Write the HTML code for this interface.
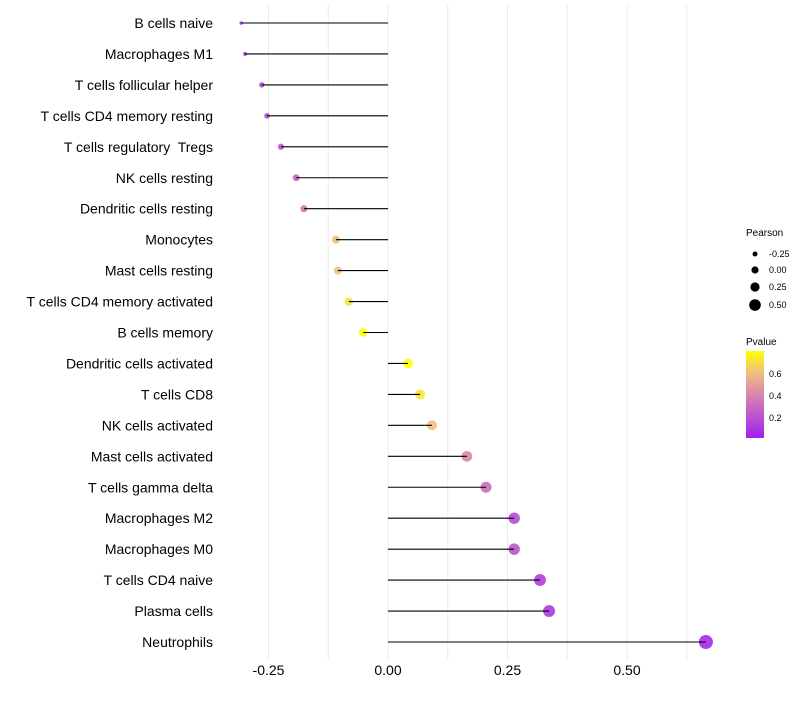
<!DOCTYPE html>
<html><head><meta charset="utf-8"><style>
body{margin:0;background:#fff;font-family:"Liberation Sans",Arial,sans-serif}
text{white-space:pre}
</style></head><body>
<svg id="chart" width="800" height="700" xmlns="http://www.w3.org/2000/svg" style="white-space:pre">
<defs><linearGradient id="pg" x1="0" y1="1" x2="0" y2="0">
<stop offset="0" stop-color="#a020f0"/><stop offset="0.5" stop-color="#d985ab"/><stop offset="0.75" stop-color="#efbf7f"/><stop offset="1" stop-color="#ffff00"/></linearGradient></defs>
<g id="grid"></g><g id="marks"></g><g id="labels"></g>
<g font-size="10" fill="#000">
<text x="746" y="236">Pearson</text>
<circle cx="755" cy="254" r="2.5"/><text x="769" y="257" font-size="9">-0.25</text>
<circle cx="755" cy="270" r="3.6"/><text x="769" y="273" font-size="9">0.00</text>
<circle cx="755" cy="287" r="4.6"/><text x="769" y="290" font-size="9">0.25</text>
<circle cx="755" cy="305" r="5.8"/><text x="769" y="308" font-size="9">0.50</text>
<text x="746" y="345">Pvalue</text>
<rect x="746" y="351" width="18" height="87" fill="url(#pg)"/>
<text x="769" y="377" font-size="9">0.6</text>
<text x="769" y="399" font-size="9">0.4</text>
<text x="769" y="421" font-size="9">0.2</text>
</g>
</svg>
<script>
const categories=["B cells naive","Macrophages M1","T cells follicular helper","T cells CD4 memory resting","T cells regulatory  Tregs","NK cells resting","Dendritic cells resting","Monocytes","Mast cells resting","T cells CD4 memory activated","B cells memory","Dendritic cells activated","T cells CD8","NK cells activated","Mast cells activated","T cells gamma delta","Macrophages M2","Macrophages M0","T cells CD4 naive","Plasma cells","Neutrophils"];
const pearson=[-0.307,-0.299,-0.264,-0.253,-0.224,-0.192,-0.176,-0.109,-0.105,-0.082,-0.052,0.042,0.067,0.092,0.165,0.205,0.264,0.264,0.318,0.337,0.665];
const pvalues=[0.1,0.1,0.15,0.17,0.2,0.25,0.35,0.6,0.6,0.7,0.8,0.8,0.72,0.6,0.4,0.3,0.17,0.2,0.12,0.1,0.03];
const ticks=[-0.25,0,0.25,0.5];
const tickLabels=["-0.25","0.00","0.25","0.50"];
const NS="http://www.w3.org/2000/svg";
const xs=v=>388+v*478;
const ys=i=>23+i*30.95;
function mk(t,a,p){const e=document.createElementNS(NS,t);for(const k in a)e.setAttribute(k,a[k]);p.appendChild(e);return e;}
const stops=[[0,[160,32,240]],[0.4,[217,133,171]],[0.6,[239,191,127]],[0.8,[255,255,0]]];
function col(p){p=Math.max(0,Math.min(0.8,p));for(let i=0;i<stops.length-1;i++){const[a,ca]=stops[i],[b,cb]=stops[i+1];if(p<=b){const t=(p-a)/(b-a);return"rgb("+ca.map((c,j)=>Math.round(c+(cb[j]-c)*t)).join(",")+")";}}return"#ff0";}
const grid=document.getElementById('grid'),marks=document.getElementById('marks'),labels=document.getElementById('labels');
for(let v=-0.25;v<=0.626;v+=0.125){const l=mk('line',{x1:xs(v),x2:xs(v),y1:5,y2:660,stroke:'#ebebeb','stroke-width':1},grid);

}
ticks.forEach((t,i)=>{const e=mk('text',{x:xs(t),y:675,'text-anchor':'middle','font-size':14,fill:'#000'},labels);e.textContent=tickLabels[i];

});
categories.forEach((c,i)=>{const y=ys(i),v=pearson[i];
const t=mk('text',{x:213,y:y+5,'text-anchor':'end','font-size':14,fill:'#000'},labels);t.textContent=c;


const r=1.5+5.5*Math.sqrt(Math.max(0,(v+0.31)/0.975));
const d=mk('circle',{cx:xs(v),cy:y,r:r,fill:col(pvalues[i]),'fill-opacity':0.9},marks);


const s=mk('line',{x1:xs(0),x2:xs(v),y1:y,y2:y,stroke:'#000','stroke-width':1.1},marks);

});
</script>
</body></html>
